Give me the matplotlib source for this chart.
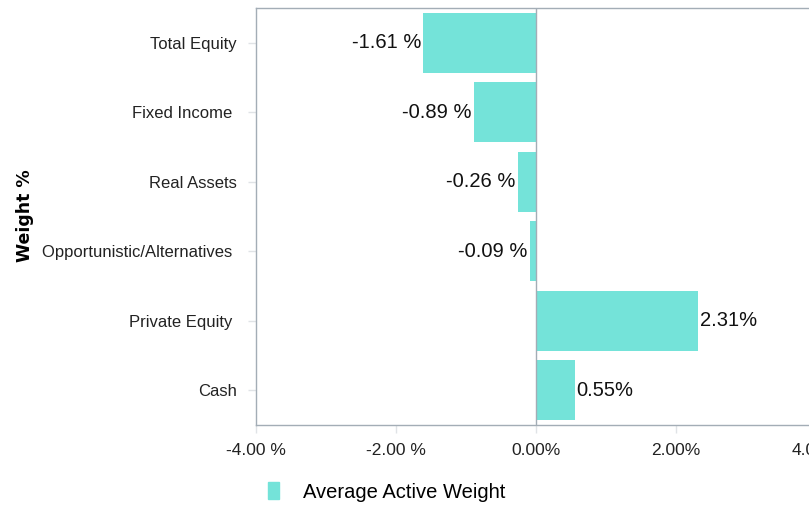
import matplotlib
matplotlib.use("Agg")
import matplotlib.pyplot as plt

categories = ["Total Equity", "Fixed Income ", "Real Assets", "Opportunistic/Alternatives ", "Private Equity ", "Cash"]
values = [-1.61, -0.89, -0.26, -0.09, 2.31, 0.55]
xticks = [-4, -2, 0, 2, 4]
xtick_labels = ["-4.00 %", "-2.00 %", "0.00%", "2.00%", "4.00%"]
series_name = "Average Active Weight"

plt.rcParams["font.family"] = ["Liberation Sans", "DejaVu Sans"]

color = "#74e3d9"
spine_c = "#a3adb6"

fig = plt.figure(figsize=(8.09, 5.08), dpi=100)
ax = fig.add_axes([256/809, 1-425/508, (816-256)/809, (425-8)/508])

y = list(range(len(categories)))
ax.barh(y, values, height=0.86, color=color, zorder=2, label=series_name)
ax.set_ylim(len(categories)-0.5, -0.5)
ax.set_xlim(-4, 4)
ax.axvline(0, color=spine_c, lw=1.0, zorder=3)

for yi, v in zip(y, values):
    if v < 0:
        ax.text(v - 0.03, yi, f"{v:.2f} %", ha="right", va="center", fontsize=14.5, color="#111111")
    else:
        ax.text(v + 0.03, yi, f"{v:.2f}%", ha="left", va="center", fontsize=14.5, color="#111111")

ax.set_yticks(y)
ax.set_yticklabels(categories, fontsize=12, color="#222222")
ax.set_xticks(xticks)
ax.set_xticklabels(xtick_labels, fontsize=12.5, color="#222222")
ax.tick_params(axis="y", length=6, width=1, color="#e0e3e6", pad=8)
ax.tick_params(axis="x", length=6, width=1, color="#e0e3e6", pad=7)
for s in ["left", "bottom", "top", "right"]:
    ax.spines[s].set_color(spine_c)
    ax.spines[s].set_linewidth(1.0)

fig.text(25/809, 1-216/508, "Weight %", rotation=90, ha="center", va="center",
         fontsize=12.5, fontweight="bold", family=["DejaVu Sans"])

leg = fig.legend(handles=[plt.Rectangle((0, 0), 1, 1, color=color)], labels=[series_name],
                 loc="center left", bbox_to_anchor=(250/809, 1-492/508), frameon=False,
                 fontsize=14.5, handlelength=0.55, handleheight=0.9, handletextpad=1.2)

fig.savefig("out.png", dpi=100)
